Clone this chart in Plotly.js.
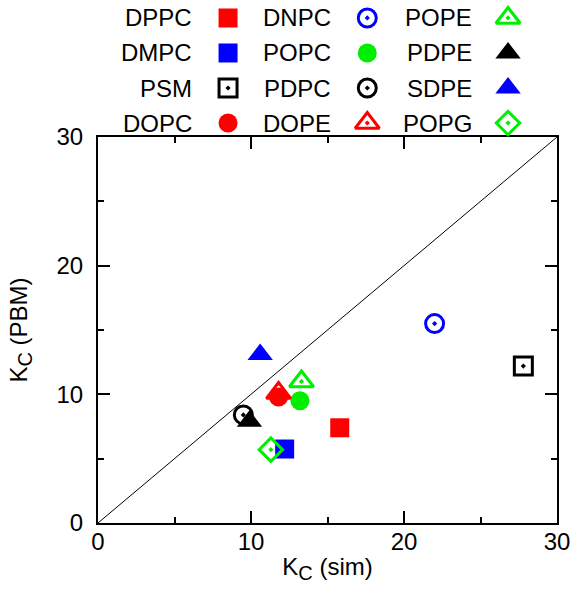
<!DOCTYPE html>
<html>
<head>
<meta charset="utf-8">
<script src="https://cdn.plot.ly/plotly-3.0.1.min.js"></script>
<style>html,body{margin:0;padding:0;background:#fff;}</style>
</head>
<body>
<div id="chart" style="width:577px;height:600px;"></div>
<script>
// ---- data ----
const lipids = ["DPPC","DMPC","PSM","DOPC","DNPC","POPC","PDPC","DOPE","POPE","PDPE","SDPE","POPG"];
const kcSim  = [15.8, 12.2, 27.8, 11.8, 22.0, 13.2, 9.5, 11.8, 13.3, 9.9, 10.6, 11.3];
const kcPBM  = [7.4, 5.75, 12.2, 9.8, 15.5, 9.5, 8.4, 10.1, 11.0, 7.9, 13.1, 5.7];
const identityLine = [0, 30];
const xTicks = [0, 10, 20, 30];
const yTicks = [0, 10, 20, 30];

// ---- styles ----
const symbols = ["square","square","square-open-dot","circle","circle-open-dot","circle","circle-open-dot",
                 "triangle-up-open-dot","triangle-up-open-dot","triangle-up","triangle-up","diamond-open-dot"];
const colors = ["#ff0000","#0000ff","#000000","#ff0000","#0000ff","#00ee00","#000000",
                "#ff0000","#00ee00","#000000","#0000ff","#00ee00"];
const sizes = [19,19,18,19,18,19,18,21,21,22,22,18];

// legend layout: 3 columns x 4 rows (column-major)
const legColX = [8.5, 17.6, 26.8];

const FONT = "Liberation Sans, Arial, sans-serif";
const FS = 24;
const traces = [];
traces.push({x: identityLine, y: identityLine, mode: "lines", line: {color: "#000", width: 1},
             xaxis: "x", yaxis: "y", hoverinfo: "skip"});
const annotations = [];
lipids.forEach((name, i) => {
  const open = symbols[i].includes("open");
  const mk = {symbol: symbols[i], size: sizes[i], color: colors[i],
              line: {color: colors[i], width: open ? 3 : 0}};
  traces.push({x: [kcSim[i]], y: [kcPBM[i]], mode: "markers", name: name, marker: mk,
               xaxis: "x", yaxis: "y", cliponaxis: false});
  const col = Math.floor(i / 4), row = i % 4;
  traces.push({x: [legColX[col]], y: [row], mode: "markers", marker: mk,
               xaxis: "x2", yaxis: "y2", hoverinfo: "skip", cliponaxis: false});
  annotations.push({x: legColX[col], y: row, xref: "x2", yref: "y2", text: name,
                    showarrow: false, xanchor: "right", yanchor: "middle", xshift: -34,
                    font: {family: FONT, size: FS, color: "#000"}});
});

const axisCommon = {
  range: [0, 30], showgrid: false, zeroline: false, showline: true, linewidth: 2, linecolor: "#000",
  mirror: "ticks", ticks: "inside", ticklen: 12, tickwidth: 2, tickcolor: "#000",
  minor: {dtick: 5, ticks: "inside", ticklen: 6, tickwidth: 2, tickcolor: "#000"},
  tickfont: {family: FONT, size: FS, color: "#000"}, fixedrange: true
};

const sub = '<sub><span style="font-size:20px">C</span></sub>';
const plotTopFrac = 386 / 523;
const layout = {
  width: 577, height: 600,
  margin: {l: 98, r: 20, t: 0, b: 77},
  showlegend: false,
  paper_bgcolor: "#fff", plot_bgcolor: "rgba(0,0,0,0)",
  font: {family: FONT, color: "#000"},
  xaxis: Object.assign({}, axisCommon, {domain: [0, 1], anchor: "y", tickvals: xTicks,
      ticklabelstandoff: -4,
      title: {text: "K" + sub + " (sim)", font: {family: FONT, size: FS}, standoff: 4}}),
  yaxis: Object.assign({}, axisCommon, {domain: [0, plotTopFrac], anchor: "x", tickvals: yTicks,
      ticklabelstandoff: 8,
      title: {text: "K" + sub + " (PBM)", font: {family: FONT, size: FS}, standoff: 22}}),
  xaxis2: {domain: [0, 1], range: [0, 30], anchor: "y2", visible: false, fixedrange: true},
  yaxis2: {domain: [plotTopFrac, 1], range: [3.4, -0.514], anchor: "x2", visible: false, fixedrange: true},
  annotations: annotations
};

Plotly.newPlot("chart", traces, layout, {displayModeBar: false, staticPlot: true});
</script>
</body>
</html>
